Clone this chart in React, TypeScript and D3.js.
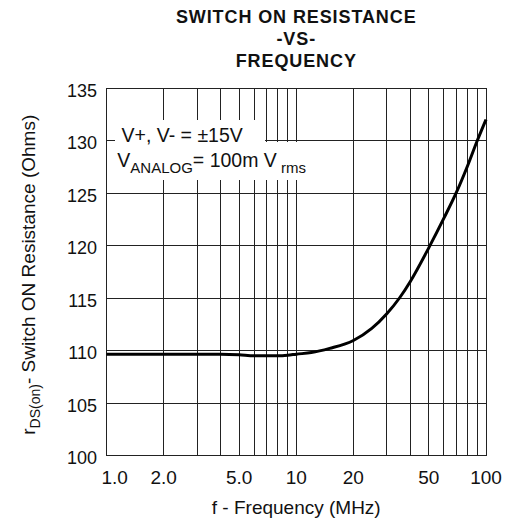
import * as d3 from "d3";

// Switch ON resistance vs frequency
const freqMHz = [1, 2, 3, 4, 5, 6, 7, 8, 9, 10, 12, 15, 20, 25, 30, 35, 40, 50, 60, 70, 80, 90, 100];
const rdsOhms = [
  109.65, 109.65, 109.65, 109.65, 109.6, 109.5, 109.5, 109.5, 109.55, 109.65, 109.8, 110.2, 110.95,
  112.1, 113.5, 115.0, 116.6, 119.8, 122.6, 125.1, 127.6, 130.0, 132.0,
];

const yTicks = [100, 105, 110, 115, 120, 125, 130, 135];
const xLabelValues = [1, 2, 5, 10, 20, 50, 100];
const xLabelText = ["1.0", "2.0", "5.0", "10", "20", "50", "100"];
const titleLines = ["SWITCH ON RESISTANCE", "-VS-", "FREQUENCY"];

const W = 506;
const H = 525;
const margin = { top: 88, right: 20, bottom: 69.5, left: 106.5 };
const FONT = "'Liberation Sans', Arial, Helvetica, sans-serif";

export default function App() {
  const x = d3
    .scaleLog()
    .domain([1, 100])
    .range([margin.left, W - margin.right]);
  const y = d3
    .scaleLinear()
    .domain([100, 135])
    .range([H - margin.bottom, margin.top]);

  const [x0, x1] = x.range();
  const [yb, yt] = y.range();

  const line = d3
    .line<number>()
    .x((_, i) => x(freqMHz[i]))
    .y((d) => y(d))
    .curve(d3.curveMonotoneX);

  const gridX = x.ticks();

  return (
    <svg
      width={W}
      height={H}
      style={{ position: "absolute", left: 0, top: 0, background: "#fff" }}
      fontFamily={FONT}
    >
      {/* title */}
      {titleLines.map((t, i) => (
        <text
          key={t}
          x={(x0 + x1) / 2}
          y={22.5 + i * 22}
          textAnchor="middle"
          fontWeight="bold"
          fontSize={18}
          letterSpacing={0.9}
          fill="#111"
        >
          {t}
        </text>
      ))}

      {/* grid */}
      <g stroke="#222" strokeWidth={1} shapeRendering="crispEdges">
        {gridX.map((v) => (
          <line key={"gx" + v} x1={x(v)} x2={x(v)} y1={yt} y2={yb} />
        ))}
        {yTicks.map((v) => (
          <line key={"gy" + v} x1={x0} x2={x1} y1={y(v)} y2={y(v)} />
        ))}
      </g>

      {/* condition note, white boxes hide the grid behind it */}
      <rect x={115} y={120} width={150} height={22} fill="#fff" />
      <rect x={115} y={142} width={207} height={38} fill="#fff" />
      <text x={121.5} y={141.5} fontSize={19.5} fill="#111">
        V+, V- = ±15V
      </text>
      <text x={117.3} y={166.5} fontSize={19.5} fill="#111">
        V
        <tspan fontSize={15} dy={6.5}>
          ANALOG
        </tspan>
        <tspan dy={-6.5}>= 100m V</tspan>
        <tspan fontSize={15} dy={6.5}>
          {" rms"}
        </tspan>
      </text>

      {/* curve */}
      <path d={line(rdsOhms) ?? ""} fill="none" stroke="#000" strokeWidth={3} />

      {/* y tick labels */}
      {yTicks.map((v) => (
        <text key={"ty" + v} x={97} y={y(v) + 8.5} textAnchor="end" fontSize={18} fill="#111">
          {v}
        </text>
      ))}

      {/* x tick labels */}
      {xLabelValues.map((v, i) => (
        <text
          key={"tx" + v}
          x={i === 0 ? x(v) - 5 : x(v)}
          y={484}
          textAnchor={i === 0 ? "start" : "middle"}
          fontSize={19}
          fill="#111"
        >
          {xLabelText[i]}
        </text>
      ))}

      {/* axis titles */}
      <text x={(x0 + x1) / 2} y={514} textAnchor="middle" fontSize={19} fill="#111">
        f - Frequency (MHz)
      </text>
      <text
        transform={`translate(35, ${(yt + yb) / 2 + 3}) rotate(-90)`}
        textAnchor="middle"
        fontSize={19}
        fill="#111"
      >
        r
        <tspan fontSize={14} dy={5}>
          DS(on)
        </tspan>
        <tspan dy={-5}>- Switch ON Resistance (Ohms)</tspan>
      </text>
    </svg>
  );
}
